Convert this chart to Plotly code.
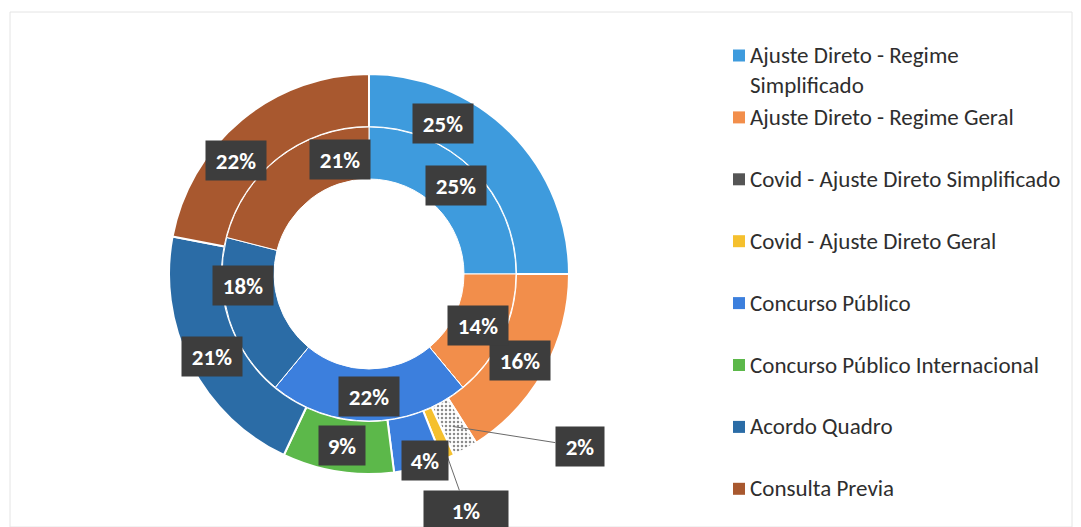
import math
import plotly.graph_objects as go

# ---------------- data ----------------
categories = [
    "Ajuste Direto - Regime Simplificado",
    "Ajuste Direto - Regime Geral",
    "Covid - Ajuste Direto Simplificado",
    "Covid - Ajuste Direto Geral",
    "Concurso Público",
    "Concurso Público Internacional",
    "Acordo Quadro",
    "Consulta Previa",
]
legend_text = [
    "Ajuste Direto - Regime<br>Simplificado",
    "Ajuste Direto - Regime Geral",
    "Covid - Ajuste Direto Simplificado",
    "Covid - Ajuste Direto Geral",
    "Concurso Público",
    "Concurso Público Internacional",
    "Acordo Quadro",
    "Consulta Previa",
]
outer_values = [25, 16, 2, 1, 4, 9, 21, 22]
inner_values = [25, 14, 0, 0, 22, 0, 18, 21]

colors = ["#3E9BDD", "#F28E4B", "#BDBDBD", "#F5C02E",
          "#3C7FDD", "#5CB84A", "#2B6CA6", "#A8582F"]
legend_marker_colors = ["#3E9BDD", "#F28E4B", "#555555", "#F5C02E",
                        "#3C7FDD", "#5CB84A", "#2B6CA6", "#A8582F"]

# ---------------- layout geometry (pixels) ----------------
W, H = 1081, 527
CX, CY = 369, 274
R_OUT, R_MID, R_HOLE = 200, 147, 95

def px(x):
    return x / W

def py(y):
    return 1 - y / H

FONT = "Carlito, Calibri, Lato, sans-serif"

fig = go.Figure()

fig.add_trace(go.Pie(
    labels=categories, values=outer_values, sort=False, direction="clockwise",
    rotation=0, hole=R_MID / R_OUT, textinfo="none", showlegend=False,
    domain=dict(x=[px(CX - R_OUT), px(CX + R_OUT)], y=[py(CY + R_OUT), py(CY - R_OUT)]),
    marker=dict(colors=colors, line=dict(color="white", width=2),
                pattern=dict(shape=["", "", ".", "", "", "", "", ""],
                             fgcolor="#8c8c8c", size=4, solidity=0.3)),
))
fig.add_trace(go.Pie(
    labels=categories, values=inner_values, sort=False, direction="clockwise",
    rotation=0, hole=R_HOLE / R_MID, textinfo="none", showlegend=False,
    domain=dict(x=[px(CX - R_MID), px(CX + R_MID)], y=[py(CY + R_MID), py(CY - R_MID)]),
    marker=dict(colors=colors, line=dict(color="white", width=1)),
))

# ---------------- data labels (positions derived from the values) ----------------
# angular nudges (deg) and radii mimic the manually placed labels of the original
outer_nudge = [-18.7, 0.9, 0, 0, -2.3, 0, -0.6, -9.8]
inner_nudge = [-0.7, 0, 0, 0, 0, 0, 12.6, 23.5]
outer_r = [168, 174, 174, 190, 195, 174, 177, 175]
inner_r = [124, 121, 121, 121, 122, 121, 127, 118]
# labels connected with leader lines: pixel offset of the box from the slice
leader_offset = {2: (127, 20), 3: (22, 62)}
leader_box_w = {2: 38, 3: 74}

annotations = []

def ring_labels(values, nudges, radii, leaders):
    total = sum(values)
    cum = 0
    for i, v in enumerate(values):
        if v <= 0:
            continue
        mid = (cum + v / 2) / total * 360 + nudges[i]
        cum += v
        ang = math.radians(mid)
        x = CX + radii[i] * math.sin(ang)
        y = CY - radii[i] * math.cos(ang)
        txt = f"{v}%"
        bw = leader_box_w.get(i, 50) if i in leaders else (50 if len(txt) > 2 else 36)
        common = dict(text=f"<b>{txt}</b>", xref="paper", yref="paper",
                      font=dict(family=FONT, size=23, color="white"),
                      bgcolor="#3d3d3d", borderpad=5, width=bw, height=29)
        if i in leaders:
            dx, dy = leaders[i]
            annotations.append(dict(x=px(x), y=py(y), showarrow=True, arrowhead=0,
                                    arrowwidth=1, arrowcolor="#6a6a6a",
                                    ax=dx, ay=dy, standoff=0, **common))
        else:
            annotations.append(dict(x=px(x), y=py(y), showarrow=False,
                                    xanchor="center", yanchor="middle", **common))

ring_labels(outer_values, outer_nudge, outer_r, leader_offset)
ring_labels(inner_values, inner_nudge, inner_r, {})

# ---------------- legend (drawn to reproduce the original spacing) ----------------
LEG_X, LEG_Y0, LEG_STEP = 733, 55, 61.9
LEG_FS = 23
shapes = []
for i, txt in enumerate(legend_text):
    yc = LEG_Y0 + LEG_STEP * i
    shapes.append(dict(type="rect", xref="paper", yref="paper",
                       x0=px(LEG_X), x1=px(LEG_X + 12), y0=py(yc + 6.5), y1=py(yc - 5.5),
                       fillcolor=legend_marker_colors[i], line=dict(width=0)))
    if "<br>" in txt:
        annotations.append(dict(x=px(LEG_X + 15), y=py(yc - 16), xref="paper", yref="paper",
                                text=txt, showarrow=False, xanchor="left", yanchor="top",
                                align="left", font=dict(family=FONT, size=LEG_FS, color="#2e2e2e")))
    else:
        annotations.append(dict(x=px(LEG_X + 15), y=py(yc), xref="paper", yref="paper",
                                text=txt, showarrow=False, xanchor="left", yanchor="middle",
                                align="left", font=dict(family=FONT, size=LEG_FS, color="#2e2e2e")))

# faint scan frame
shapes.append(dict(type="rect", xref="paper", yref="paper", layer="below",
                   x0=px(10), x1=px(1072), y0=py(527), y1=py(12),
                   line=dict(color="#e4e4e4", width=1), fillcolor="rgba(0,0,0,0)"))

fig.update_layout(
    width=W, height=H, autosize=False,
    margin=dict(l=0, r=0, t=0, b=0),
    paper_bgcolor="white", plot_bgcolor="white",
    showlegend=False,
    annotations=annotations, shapes=shapes,
)

fig.write_html("out.html", config={"displayModeBar": False},
               post_script="document.body.style.margin='0px';")
